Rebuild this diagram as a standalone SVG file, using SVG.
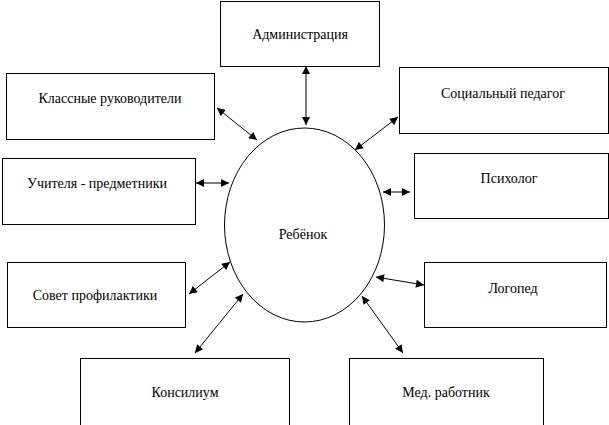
<svg xmlns="http://www.w3.org/2000/svg" width="609" height="425" viewBox="0 0 609 425">
<style>
.box{fill:#fff;stroke:#000;stroke-width:1}
.c{stroke:#000;stroke-width:1;fill:none;marker-start:url(#ah);marker-end:url(#ah)}
</style>
<defs>
<marker id="ah" viewBox="0 0 10 10" refX="10" refY="5" markerWidth="9" markerHeight="8" markerUnits="userSpaceOnUse" orient="auto-start-reverse">
<path d="M0,0 L10,5 L0,10 z" fill="#000"/>
</marker>
</defs>
<rect width="609" height="425" fill="#fff"/>
<g font-family="Liberation Serif, DejaVu Serif, serif" font-size="14" text-anchor="middle" fill="#000">
<g id="admin"><rect class="box" x="220.5" y="1.5" width="159" height="65"/><text x="300" y="39">Администрация</text></g>
<g id="klass"><rect class="box" x="6.5" y="73.5" width="208" height="66"/><text x="110" y="103">Классные руководители</text></g>
<g id="soc"><rect class="box" x="399.5" y="67.5" width="209" height="66"/><text x="503" y="98">Социальный педагог</text></g>
<g id="psy"><rect class="box" x="414.5" y="153.5" width="194" height="65"/><text x="509" y="183">Психолог</text></g>
<g id="uchit"><rect class="box" x="2.5" y="158.5" width="193" height="66"/><text x="97" y="188">Учителя - предметники</text></g>
<g id="sovet"><rect class="box" x="7.5" y="262.5" width="178" height="65"/><text x="95" y="300">Совет профилактики</text></g>
<g id="konsil"><rect class="box" x="80.5" y="358.5" width="209" height="70"/><text x="185" y="397">Консилиум</text></g>
<g id="logo"><rect class="box" x="424.5" y="262.5" width="182" height="65"/><text x="513" y="293">Логопед</text></g>
<g id="med"><rect class="box" x="349.5" y="358.5" width="194" height="70"/><text x="446" y="397">Мед. работник</text></g>
<g id="child"><ellipse class="box" cx="304.5" cy="225" rx="80" ry="97"/><text x="303" y="239">Ребёнок</text></g>
</g>
<g id="connectors">
<line class="c" x1="306" y1="66" x2="306" y2="125"/>
<line class="c" x1="217" y1="108" x2="257" y2="140"/>
<line class="c" x1="398" y1="117" x2="355" y2="150"/>
<line class="c" x1="383" y1="192" x2="410" y2="192"/>
<line class="c" x1="196" y1="183" x2="229" y2="183"/>
<line class="c" x1="189" y1="294" x2="230" y2="262"/>
<line class="c" x1="195" y1="353" x2="243" y2="294"/>
<line class="c" x1="376" y1="277" x2="424" y2="285"/>
<line class="c" x1="362" y1="296" x2="403" y2="353"/>
</g>
</svg>
